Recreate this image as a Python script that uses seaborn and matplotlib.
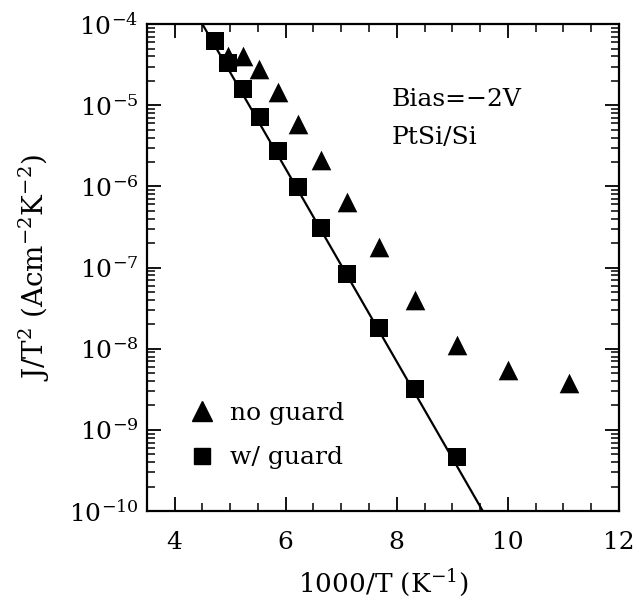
import numpy as np
import pandas as pd
import matplotlib
matplotlib.use("Agg")
import matplotlib.pyplot as plt
import seaborn as sns
from matplotlib.lines import Line2D
from matplotlib.ticker import LogLocator, MultipleLocator, FixedLocator, NullFormatter

# Dark-current data, PtSi/Si diode at -2 V bias
guard_x = [4.72, 4.96, 5.24, 5.53, 5.86, 6.22, 6.64, 7.11, 7.68, 8.32, 9.09]
guard_j = [6.2e-5, 3.3e-5, 1.6e-5, 7.2e-6, 2.7e-6, 9.8e-7, 3.1e-7, 8.3e-8, 1.8e-8, 3.2e-9, 4.6e-10]

noguard_x = [4.96, 5.24, 5.52, 5.86, 6.22, 6.64, 7.11, 7.68, 8.32, 9.09, 10.0, 11.11]
noguard_j = [4.0e-5, 4.0e-5, 2.8e-5, 1.45e-5, 5.9e-6, 2.1e-6, 6.4e-7, 1.78e-7, 4.0e-8, 1.12e-8, 5.4e-9, 3.8e-9]

# Thermionic-emission fit line for the guarded diode
fit_x = [4.50, 9.55]
fit_j = [1e-4, 1e-10]

x_ticks = [4, 6, 8, 10, 12]
y_decades = [-10, -9, -8, -7, -6, -5, -4]

sns.set_theme(style="ticks")
plt.rcParams["font.family"] = ["DejaVu Serif"]
plt.rcParams["mathtext.fontset"] = "dejavuserif"
plt.rcParams["text.color"] = "black"
plt.rcParams["axes.labelcolor"] = "black"

fig = plt.figure(figsize=(6.44, 6.02), dpi=100)
ax = fig.add_axes([0.228, 0.151, 0.733, 0.809])

sns.lineplot(x=fit_x, y=fit_j, ax=ax, color="black", linewidth=1.6)
sns.scatterplot(x=noguard_x, y=noguard_j, ax=ax, marker="^", s=200,
                color="black", edgecolor="black", linewidth=0, zorder=3)
sns.scatterplot(x=guard_x, y=guard_j, ax=ax, marker="s", s=150,
                color="black", edgecolor="black", linewidth=0, zorder=3)

ax.set_yscale("log")
ax.set_xlim(3.5, 12)
ax.set_ylim(1e-10, 1e-4)

ax.xaxis.set_major_locator(FixedLocator(x_ticks))
ax.xaxis.set_minor_locator(MultipleLocator(0.5))
ax.set_xticklabels([str(t) for t in x_ticks])
ax.yaxis.set_major_locator(FixedLocator([10.0 ** d for d in y_decades]))
ax.set_yticklabels([rf"$10^{{{d}}}$" for d in y_decades])
ax.yaxis.set_minor_locator(LogLocator(base=10, subs=np.arange(2, 10), numticks=20))
ax.yaxis.set_minor_formatter(NullFormatter())

ax.tick_params(which="both", direction="in", top=True, right=True,
               color="black", labelsize=18, labelcolor="black")
ax.tick_params(which="major", length=10, width=1.3)
ax.tick_params(axis="x", which="major", pad=14)
ax.tick_params(axis="y", which="major", pad=6)
ax.tick_params(which="minor", length=5.5, width=1.1)
for s in ax.spines.values():
    s.set_linewidth(1.6)
    s.set_color("black")

ax.set_xlabel(r"1000/T (K$^{-1}$)", fontsize=19, labelpad=10)
ax.set_ylabel(r"J/T$^2$ (Acm$^{-2}$K$^{-2}$)", fontsize=20, labelpad=12)

ax.text(0.519, 0.845, "Bias=\u22122V", transform=ax.transAxes, fontsize=18,
        va="center", ha="left")
ax.text(0.519, 0.768, "PtSi/Si", transform=ax.transAxes, fontsize=18,
        va="center", ha="left")

handles = [
    Line2D([], [], marker="^", linestyle="none", color="black", markersize=14),
    Line2D([], [], marker="s", linestyle="none", color="black", markersize=12),
]
ax.legend(handles, ["no guard", "w/ guard"], loc="lower left",
          bbox_to_anchor=(0.07, 0.065), frameon=False, fontsize=18,
          handlelength=1.0, handletextpad=0.6, labelspacing=0.85,
          borderaxespad=0)

fig.savefig("out.png", dpi=100)
